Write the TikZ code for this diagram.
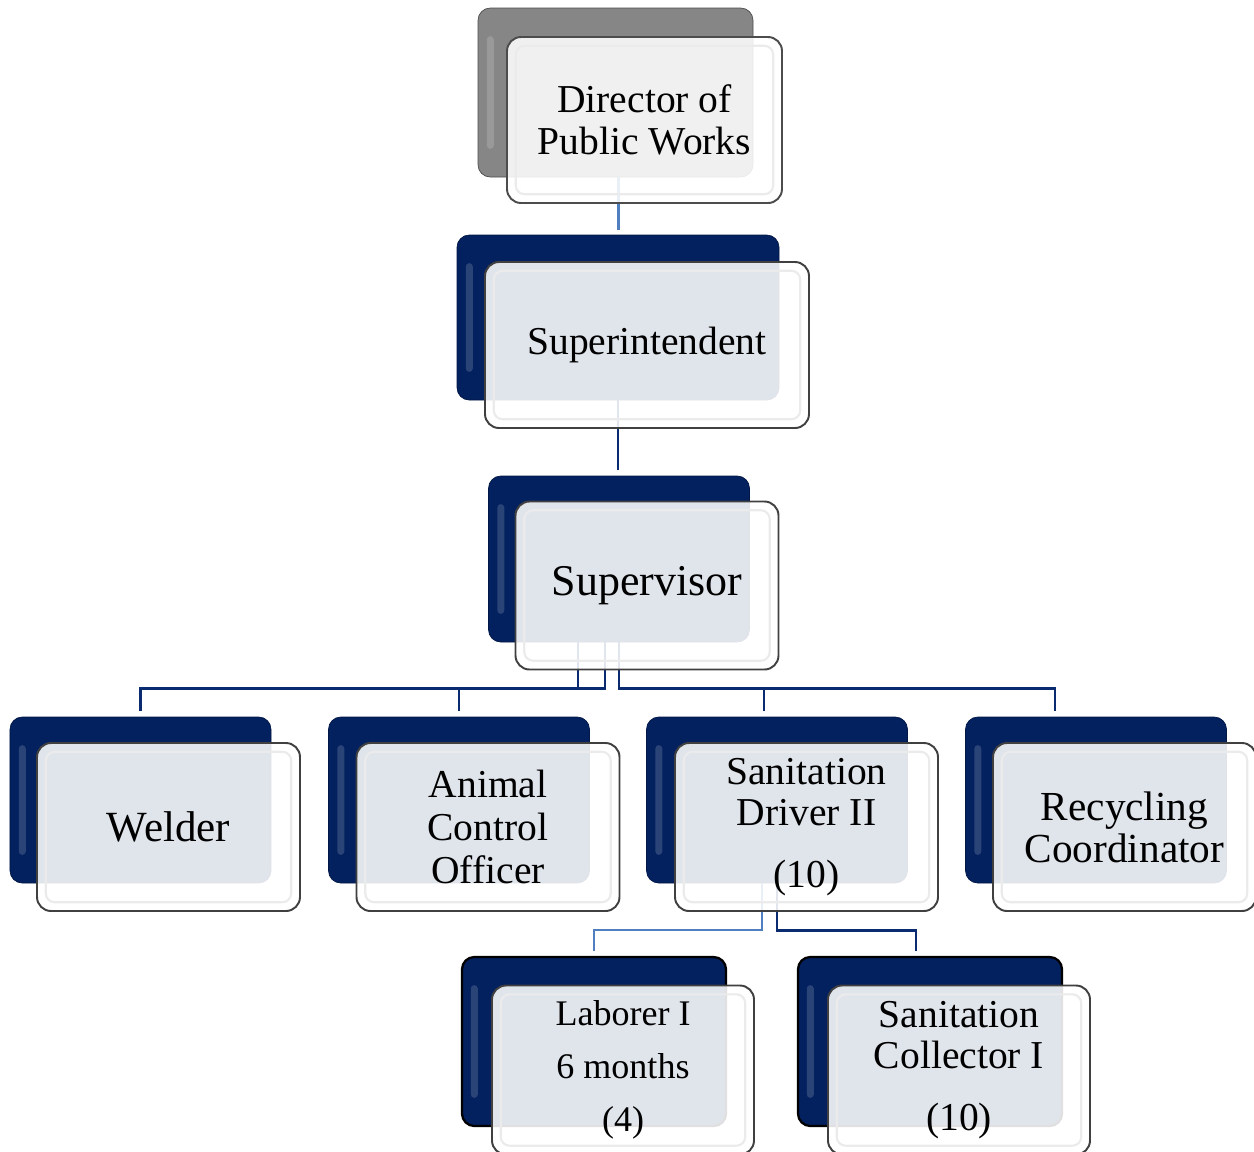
\documentclass[tikz,border=0pt]{standalone}
\usepackage{fontspec}
\setmainfont{Liberation Serif}

\definecolor{navy}{HTML}{03215F}
\definecolor{linkblue}{HTML}{0B2B70}
\definecolor{paleline}{HTML}{4F7FBF}

\begin{document}
\begin{tikzpicture}[
    back/.style={draw=navy!70!black, fill=navy, rounded corners=7pt,
        minimum width=5.22cm, minimum height=3.32cm, inner sep=0pt,
        path picture={\fill[white, opacity=.16, rounded corners=2pt]
            ([xshift=5pt,yshift=16pt]path picture bounding box.south west) rectangle
            ([xshift=9pt,yshift=-16pt]path picture bounding box.north west);}},
    greyback/.style={back, fill=gray!95, draw=gray!60!black},
    front/.style={draw=black!75, line width=1.1pt, fill=white, fill opacity=.88,
        text opacity=1, rounded corners=8pt, minimum width=5.26cm, minimum height=3.36cm,
        inner sep=0pt, align=center, font=\fontsize{22.5}{23.8}\selectfont,
        path picture={\draw[black!8, line width=1.2pt, rounded corners=5pt]
            ([shift={(5pt,5pt)}]path picture bounding box.south west) rectangle
            ([shift={(-5pt,-5pt)}]path picture bounding box.north east);}},
    link/.style={draw=linkblue, line width=1.5pt},
    thinlink/.style={draw=paleline, line width=1pt},
]
\useasboundingbox (0,0) rectangle (25.08,-23.02);

% back cards
\node[greyback, minimum width=5.5cm, minimum height=3.38cm] (dirb) at (12.31,-1.85) {};
\node[back, minimum width=6.44cm, minimum height=3.30cm] (supb) at (12.36,-6.35) {};
\node[back] (svb) at (12.38,-11.18) {};
\node[back] (welb) at (2.81,-16.0) {};
\node[back] (anib) at (9.18,-16.0) {};
\node[back] (drvb) at (15.54,-16.0) {};
\node[back] (recb) at (21.92,-16.0) {};
\node[back, draw=black, line width=1.3pt, minimum width=5.28cm, minimum height=3.38cm] (labb) at (11.88,-20.83) {};
\node[back, draw=black, line width=1.3pt, minimum width=5.28cm, minimum height=3.38cm] (colb) at (18.60,-20.83) {};

% connectors
\draw[thinlink, line width=1.6pt] ([xshift=0.06cm]dirb.south) -- ([xshift=0.06cm,yshift=0.1cm]dirb.south |- supb.north);
\draw[link] (supb.south) -- ([yshift=0.12cm]supb.south |- svb.north);
\draw[link, shorten >=0.12cm] ([xshift=-0.82cm]svb.south) -- ++(0,-0.92) -| (welb.north);
\draw[link, shorten >=0.12cm] ([xshift=-0.28cm]svb.south) -- ++(0,-0.92) -| (anib.north);
\draw[link, shorten >=0.12cm] (svb.south) -- ++(0,-0.92) -| ([xshift=-0.26cm]drvb.north);
\draw[link, shorten >=0.12cm] (svb.south) -- ++(0,-0.92) -| ([xshift=-0.82cm]recb.north);
\draw[thinlink, shorten >=0.1cm] ([xshift=-0.30cm]drvb.south) -- ++(0,-0.94) -| (labb.north);
\draw[link, shorten >=0.1cm] (drvb.south) -- ++(0,-0.94) -| ([xshift=-0.28cm]colb.north);

% front cards
\node[front, draw=gray!60!black, minimum width=5.5cm, minimum height=3.32cm] (dir)
    at ([shift={(0.58,-0.55)}]dirb.center) {Director of\\Public Works};
\node[front, minimum width=6.48cm, minimum height=3.32cm] (sup)
    at ([shift={(0.58,-0.55)}]supb.center) {Superintendent};
\node[front, font=\fontsize{25}{26}\selectfont] (sv)
    at ([shift={(0.56,-0.53)}]svb.center) {Supervisor};
\node[front, font=\fontsize{24.5}{26}\selectfont] (wel)
    at ([shift={(0.56,-0.54)}]welb.center) {Welder};
\node[front, font=\fontsize{22.5}{24.7}\selectfont] (ani)
    at ([shift={(0.58,-0.54)}]anib.center) {Animal\\Control\\Officer};
\node[front] (drv)
    at ([shift={(0.59,-0.54)}]drvb.center) {Sanitation\\Driver II\\[0.4cm](10)};
\node[front, font=\fontsize{23.5}{23.8}\selectfont] (rec)
    at ([shift={(0.57,-0.54)}]recb.center) {Recycling\\Coordinator};
\node[front, font=\fontsize{20.5}{30}\selectfont, minimum width=5.24cm, minimum height=3.38cm] (lab)
    at ([shift={(0.58,-0.57)}]labb.center) {Laborer I\\6 months\\(4)};
\node[front, minimum width=5.24cm, minimum height=3.38cm] (col)
    at ([shift={(0.58,-0.57)}]colb.center) {Sanitation\\Collector I\\[0.4cm](10)};
\end{tikzpicture}
\end{document}
